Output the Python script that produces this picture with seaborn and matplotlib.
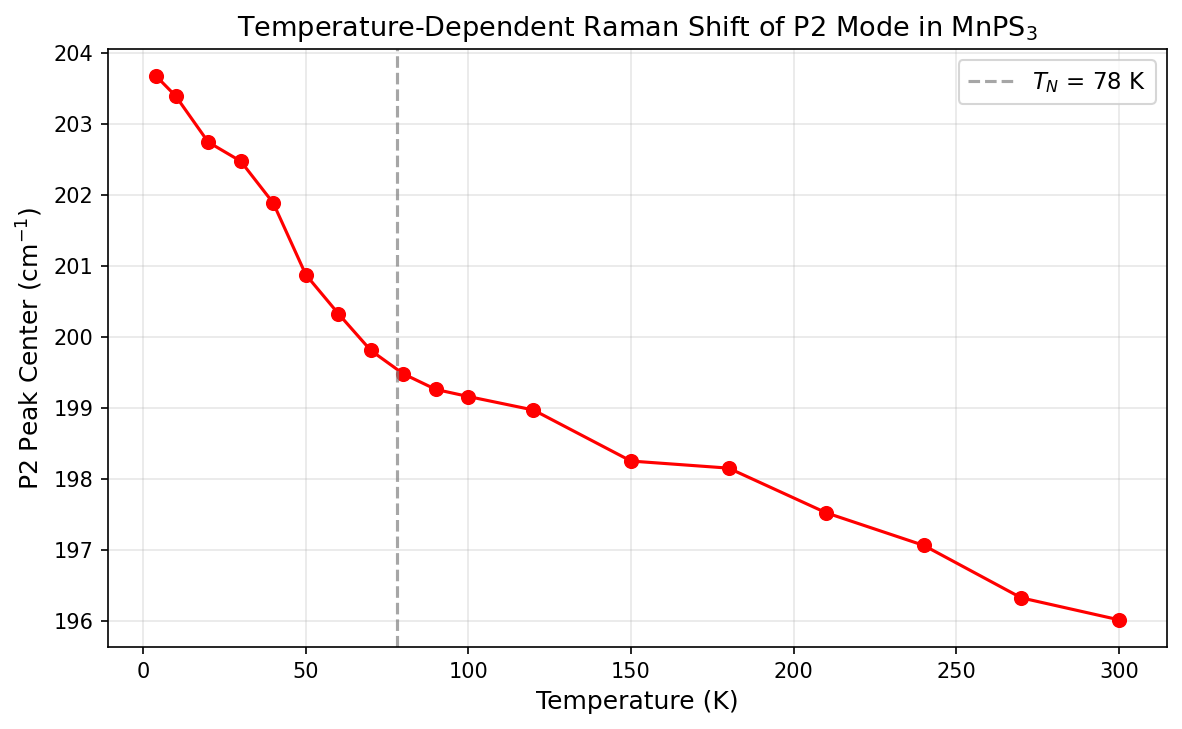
import matplotlib
matplotlib.use("Agg")
from matplotlib import pyplot as plt
import seaborn as sns
import pandas as pd

temperature = [4, 10, 20, 30, 40, 50, 60, 70, 80, 90, 100, 120, 150, 180, 210, 240, 270, 300]
p2_center = [203.68, 203.40, 202.75, 202.48, 201.89, 200.88, 200.33, 199.81, 199.48,
             199.26, 199.16, 198.97, 198.25, 198.15, 197.52, 197.06, 196.32, 196.01]
t_neel = 78

df = pd.DataFrame({'T': temperature, 'center': p2_center})

fig, ax = plt.subplots(figsize=(7.88, 4.86), dpi=150)
sns.lineplot(x='T', y='center', data=df, ax=ax, color='red', marker='o',
             markersize=6.5, markeredgecolor='red', linewidth=1.5)
ax.axvline(t_neel, color='gray', linestyle='--', alpha=0.7, linewidth=1.5,
           label=f'$T_N$ = {t_neel} K')

ax.set_xlabel('Temperature (K)', fontsize=12)
ax.set_ylabel('P2 Peak Center (cm$^{-1}$)', fontsize=12)
ax.set_title('Temperature-Dependent Raman Shift of P2 Mode in MnPS$_3$', fontsize=13)
ax.grid(True, alpha=0.3)
ax.legend(loc='upper right', fontsize=11)

fig.subplots_adjust(left=0.0914, right=0.9873, top=0.9328, bottom=0.1125)
plt.savefig('out.png', dpi=150)
